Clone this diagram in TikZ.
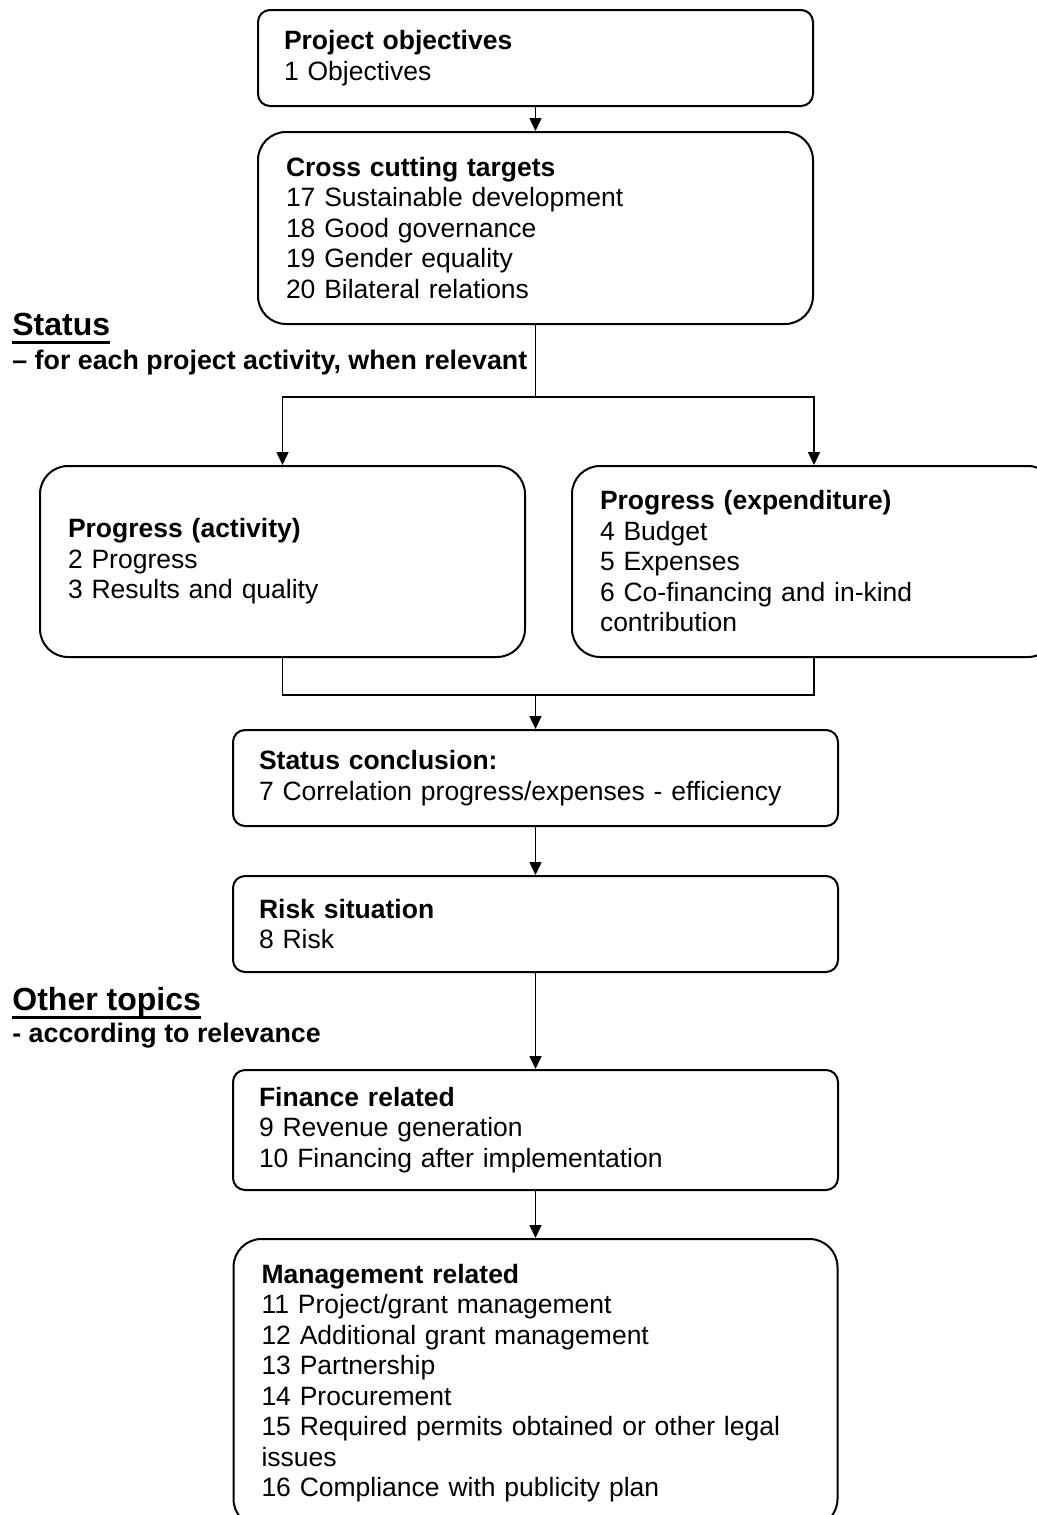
\documentclass[tikz,border=0pt]{standalone}
\usepackage{fontspec}
\setmainfont{Liberation Sans}
\usetikzlibrary{positioning,arrows.meta}
% underline 3pt below baseline, 1.3pt thick
\newcommand{\headul}[1]{\setbox0\hbox{#1}\rlap{\rule[-4.3pt]{\wd0}{1.3pt}}\box0}

\begin{document}
\begin{tikzpicture}[
    x=0.5pt, y=-0.5pt,
    box/.style={
        rectangle, rounded corners=6pt,
        draw=black, line width=1pt,
        inner xsep=13pt, inner ysep=0pt,
        align=left,
        font=\fontsize{13.25pt}{15.25pt}\selectfont   % body text of the boxes
    },
    bigbox/.style={box, rounded corners=14pt, inner xsep=14pt},
    headtxt/.style={inner sep=0pt, anchor=base west, font=\fontsize{16pt}{19pt}\selectfont\bfseries},
    subtxt/.style={inner sep=0pt, anchor=base west, font=\fontsize{13.4pt}{15.25pt}\selectfont\bfseries},
    line/.style={line width=0.75pt},
    arrow/.style={->, line, >={Triangle[length=6.5pt,width=6pt]}}
]
\useasboundingbox (0,0) rectangle (1037,1515);

% --- Top: objectives and cross cutting targets ---
\node[box, text width=251.5pt, minimum height=48pt] (obj) at (535.5,58)
    {\textbf{Project objectives}\\1 Objectives};
\node[bigbox, text width=249.5pt, minimum height=96pt, below=12pt of obj] (cross)
    {\textbf{Cross cutting targets}\\17 Sustainable development\\18 Good governance\\19 Gender equality\\20 Bilateral relations};

% --- Status ---
\node[headtxt] (stathead) at (12,335) {\headul{Status}};
\node[subtxt] (statsub) at (12,369) {– for each project activity, when relevant};

\node[bigbox, text width=214.5pt, minimum height=95.5pt] (act) at (282.5,561.5)
    {\textbf{Progress (activity)}\\2 Progress\\3 Results and quality};
\node[bigbox, text width=214pt, minimum height=95.5pt] (exp) at (814,561.5)
    {\textbf{Progress (expenditure)}\\4 Budget\\5 Expenses\\6 Co-financing and in-kind\\contribution};

\node[box, text width=276.5pt, minimum height=48pt] (stat) at (535.5,778)
    {\textbf{Status conclusion:}\\7 Correlation progress/expenses - efficiency};
\node[box, text width=276.5pt, minimum height=48pt, below=24pt of stat] (risk)
    {\textbf{Risk situation}\\8 Risk};

% --- Other topics ---
\node[headtxt] (otherhead) at (12,1010) {\headul{Other topics}};
\node[subtxt] (othersub) at (12,1042) {- according to relevance};

\node[box, text width=276.5pt, minimum height=60pt, below=48pt of risk] (fin)
    {\textbf{Finance related}\\9 Revenue generation\\10 Financing after implementation};
\node[bigbox, text width=274pt, minimum height=144pt, below=23.5pt of fin] (mgmt)
    {\textbf{Management related}\\11 Project/grant management\\12 Additional grant management\\13 Partnership\\14 Procurement\\15 Required permits obtained or other legal\\issues\\16 Compliance with publicity plan};

% --- Connectors ---
\draw[arrow] (obj) -- (cross);
\draw[line] (cross.south) -- ++(0,-36pt) coordinate (split);
\draw[arrow] (split) -| (act.north);
\draw[arrow] (split) -| (exp.north);
\path (act.south) ++(0,-18.5pt) coordinate (joinL);
\draw[line] (act.south) -- (joinL) -| (exp.south);
\draw[arrow] (joinL -| stat.north) -- (stat.north);
\draw[arrow] (stat) -- (risk);
\draw[arrow] (risk) -- (fin);
\draw[arrow] (fin) -- (mgmt);

\end{tikzpicture}
\end{document}
